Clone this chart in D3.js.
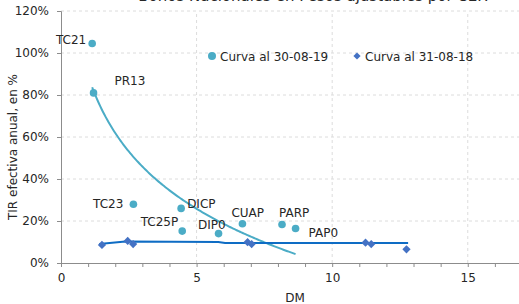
<!DOCTYPE html>
<html>
<head>
<meta charset="utf-8">
<script src="https://cdn.jsdelivr.net/npm/d3@7"></script>
<style>
  html, body { margin: 0; padding: 0; background: #fff; }
  svg { display: block; font-family: "DejaVu Sans", sans-serif; }
</style>
</head>
<body>
<svg id="chart" width="519" height="304"></svg>
<script>
// Bonos Nacionales en Pesos ajustables por CER - scatter DM vs TIR

const bonds2019 = ["TC21", "PR13", "TC23", "DICP", "TC25P", "DIP0", "CUAP", "PARP", "PAP0"];
const dm2019 = [1.15, 1.2, 2.67, 4.43, 4.47, 5.81, 6.69, 8.15, 8.65];
const tir2019 = [1.045, 0.81, 0.28, 0.26, 0.152, 0.14, 0.187, 0.183, 0.164];

const dm2018 = [1.51, 2.46, 2.66, 6.88, 7.03, 11.23, 11.44, 12.74];
const tir2018 = [0.086, 0.105, 0.09, 0.099, 0.09, 0.097, 0.09, 0.065];

// trend line drawn for the 2018 curve
const trend2018X = [1.41, 2.37, 5.8, 6.05, 12.8];
const trend2018Y = [0.09, 0.102, 0.10, 0.095, 0.095];

const xTicks = [0, 5, 10, 15];
const yTicks = [0, 0.2, 0.4, 0.6, 0.8, 1.0, 1.2];

const title = "Bonos Nacionales en Pesos ajustables por CER";
const legendLabels = ["Curva al 30-08-19", "Curva al 31-08-18"];

const colLight = "#4bacc6";
const colDark = "#4472c4";
const colTrend18 = "#0e6cc4";

// label offsets (px) relative to each 2019 point
const labelPos = {
  TC21: [-6, 0, "end"], PR13: [21, -8, "start"], TC23: [-10, 4, "end"],
  DICP: [6, 0, "start"], TC25P: [-4, -5, "end"], DIP0: [7, -5, "end"],
  CUAP: [-11, -7, "start"], PARP: [-3, -8, "start"], PAP0: [13, 8, "start"]
};

const svg = d3.select("#chart");
const x = d3.scaleLinear().domain([0, 17]).range([61, 522]);
const y = d3.scaleLinear().domain([0, 1.2]).range([263, 11]);

// grid
svg.append("g").selectAll("line").data(yTicks.slice(1)).join("line")
  .attr("x1", x(0)).attr("x2", 519).attr("y1", d => y(d)).attr("y2", d => y(d))
  .attr("stroke", "#dcdcdc").attr("stroke-dasharray", "3,3");
svg.append("g").selectAll("line").data(xTicks.slice(1)).join("line")
  .attr("x1", d => x(d)).attr("x2", d => x(d)).attr("y1", y(0)).attr("y2", y(1.2))
  .attr("stroke", "#dcdcdc").attr("stroke-dasharray", "3,3");

// axes
const yAxis = svg.append("g").attr("transform", `translate(${x(0)},0)`)
  .call(d3.axisLeft(y).tickValues(yTicks).tickFormat(d3.format(".0%")).tickSize(4).tickPadding(8));
const xAxis = svg.append("g").attr("transform", `translate(0,${y(0)})`)
  .call(d3.axisBottom(x).ticks(17).tickFormat(d => xTicks.includes(d) ? d : "").tickSize(4).tickPadding(6));
[yAxis, xAxis].forEach(a => {
  a.select(".domain").attr("stroke", "#8c8c8c");
  a.selectAll(".tick line").attr("stroke", "#8c8c8c");
  a.selectAll("text").attr("fill", "#262626").style("font-size", "12px").style("font-family", "DejaVu Sans");
});

// title (mostly off the top edge, as in the source)
svg.append("text").attr("x", 313).attr("y", 1).attr("text-anchor", "middle")
  .style("font-size", "15px").attr("fill", "#262626").text(title);

// axis titles
svg.append("text").attr("transform", "translate(17,147) rotate(-90)").attr("text-anchor", "middle")
  .style("font-size", "12px").attr("fill", "#262626").text("TIR efectiva anual, en %");
svg.append("text").attr("x", 295).attr("y", 302).attr("text-anchor", "middle")
  .style("font-size", "12px").attr("fill", "#262626").text("DM");

// log trend line for 2019 (least squares on ln(DM))
const lx = dm2019.map(Math.log);
const mx = d3.mean(lx), my = d3.mean(tir2019);
const b = d3.sum(lx, (v, i) => (v - mx) * (tir2019[i] - my)) / d3.sum(lx, v => (v - mx) ** 2);
const a = my - b * mx;
const xs = d3.range(d3.min(dm2019), d3.max(dm2019) + 0.001, 0.05);
svg.append("path").datum(xs)
  .attr("fill", "none").attr("stroke", colLight).attr("stroke-width", 2)
  .attr("d", d3.line().x(d => x(d)).y(d => y(a + b * Math.log(d))));

// 2018 trend line
svg.append("path").datum(d3.zip(trend2018X, trend2018Y))
  .attr("fill", "none").attr("stroke", colTrend18).attr("stroke-width", 2)
  .attr("d", d3.line().x(d => x(d[0])).y(d => y(d[1])));

// 2018 diamonds (square turned 45 degrees)
const diamond = d3.symbol().type(d3.symbolSquare).size(34);
svg.append("g").selectAll("path").data(d3.zip(dm2018, tir2018)).join("path")
  .attr("d", diamond).attr("fill", colDark)
  .attr("transform", d => `translate(${x(d[0])},${y(d[1])}) rotate(45)`);

// 2019 points
svg.append("g").selectAll("circle").data(d3.zip(dm2019, tir2019)).join("circle")
  .attr("cx", d => x(d[0])).attr("cy", d => y(d[1])).attr("r", 3.8).attr("fill", colLight);

// point labels
svg.append("g").selectAll("text").data(bonds2019).join("text")
  .attr("x", (d, i) => x(dm2019[i]) + labelPos[d][0])
  .attr("y", (d, i) => y(tir2019[i]) + labelPos[d][1])
  .attr("text-anchor", d => labelPos[d][2])
  .style("font-size", "12px").attr("fill", "#262626").text(d => d);

// legend
const leg = svg.append("g");
leg.append("circle").attr("cx", 212).attr("cy", 56).attr("r", 4).attr("fill", colLight);
leg.append("text").attr("x", 220).attr("y", 60.5).style("font-size", "12px").attr("fill", "#262626").text(legendLabels[0]);
leg.append("path").attr("d", d3.symbol().type(d3.symbolSquare).size(26)).attr("fill", colDark)
  .attr("transform", "translate(357,56) rotate(45)");
leg.append("text").attr("x", 365).attr("y", 60.5).style("font-size", "12px").attr("fill", "#262626").text(legendLabels[1]);
</script>
</body>
</html>
